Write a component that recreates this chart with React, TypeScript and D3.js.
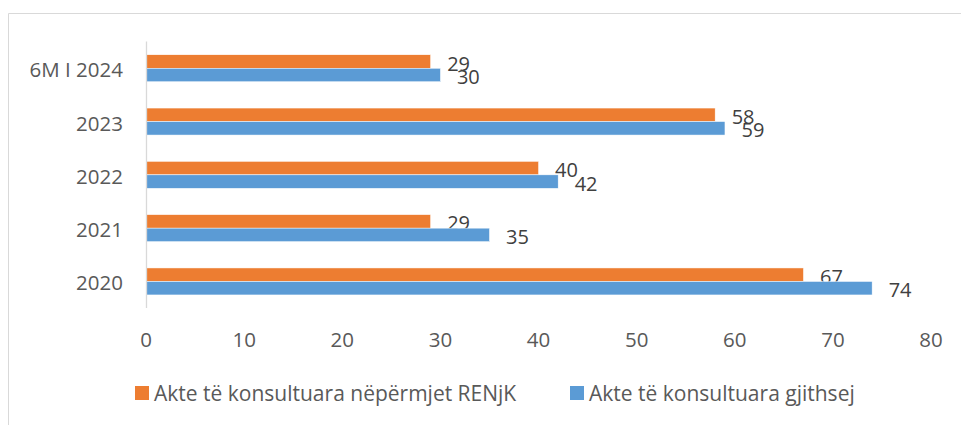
import React from 'react'
import { scaleBand, scaleLinear } from 'd3'

const categories = ['6M I 2024', '2023', '2022', '2021', '2020']
const renjk = [29, 58, 40, 29, 67]
const total = [30, 59, 42, 35, 74]
const seriesNames = ['Akte të konsultuara nëpërmjet RENjK', 'Akte të konsultuara gjithsej']
const xTicks = [0, 10, 20, 30, 40, 50, 60, 70, 80]

const colors = ['#ED7D31', '#5B9BD5']
const font = "'Open Sans', sans-serif"

export default function App() {
  const width = 961, height = 425

  const x = scaleLinear().domain([0, 80]).range([146.1, 931])
  const y = scaleBand<string>()
    .domain(categories)
    .range([41.6, 308.1])
    .paddingInner(0.4935)
    .paddingOuter(0.4935 / 2)
  const inner = scaleBand<string>()
    .domain(['renjk', 'total'])
    .range([0, y.bandwidth()])

  const series = [
    { key: 'renjk', values: renjk },
    { key: 'total', values: total },
  ]

  return (
    <svg width={width} height={height} style={{ position: 'absolute', left: 0, top: 0, background: '#fff' }}>
      {/* outer frame */}
      <line x1={8.5} y1={13.5} x2={961} y2={13.5} stroke="#d9d9d9" />
      <line x1={8.5} y1={13.5} x2={8.5} y2={425} stroke="#d9d9d9" />

      {series.map((s, si) => (
        <g key={s.key}>
          {s.values.map((v, i) => {
            const y0 = (y(categories[i]) as number) + (inner(s.key) as number)
            return (
              <g key={i}>
                <rect x={x(0)} y={y0} width={x(v) - x(0)} height={inner.bandwidth()} fill={colors[si]} stroke="#fff" strokeWidth={0.5} />
                <text x={x(v) + 16.5} y={y0 + inner.bandwidth() / 2 + 1.5} dominantBaseline="central"
                  fontFamily={font} fontSize={20} fill="#404040">{v}</text>
              </g>
            )
          })}
        </g>
      ))}

      {/* y axis */}
      <line x1={146.5} y1={41.6} x2={146.5} y2={308} stroke="#d9d9d9" strokeWidth={1.3} />
      {categories.map(c => (
        <text key={c} x={123} y={(y(c) as number) + y.bandwidth() / 2 + 1} textAnchor="end" dominantBaseline="central"
          fontFamily={font} fontSize={20.5} fill="#595959">{c}</text>
      ))}

      {/* x tick labels */}
      {xTicks.map(t => (
        <text key={t} x={x(t)} y={339} textAnchor="middle" dominantBaseline="central"
          fontFamily={font} fontSize={20.5} fill="#595959">{t}</text>
      ))}

      {/* legend */}
      {seriesNames.map((n, i) => {
        const lx = [135, 570][i]
        return (
          <g key={n}>
            <rect x={lx} y={386} width={14} height={14} fill={colors[i]} />
            <text x={lx + 19} y={393} dominantBaseline="central" fontFamily={font} fontSize={21} fill="#595959">{n}</text>
          </g>
        )
      })}
    </svg>
  )
}
